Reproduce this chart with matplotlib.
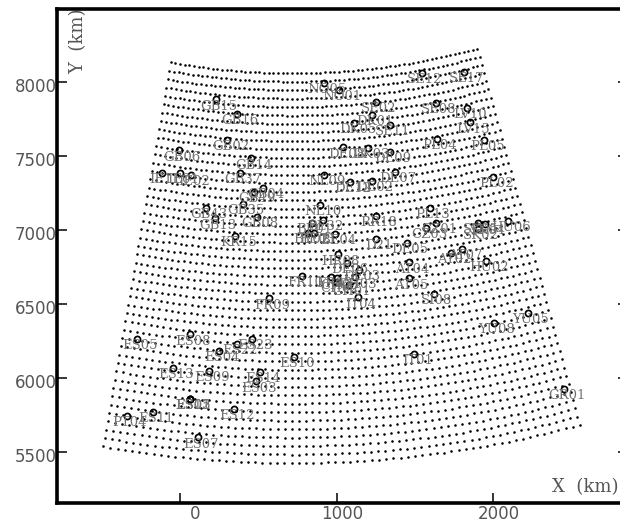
import numpy as np
import matplotlib
matplotlib.use("Agg")
import matplotlib.pyplot as plt
from matplotlib.transforms import ScaledTranslation

# Station positions (km)
station_names = ["NO05","NO01","GB15","GB16","GB02","GB06","GB14","IE11","IE01","IE02",
    "GB37","GB49","GB04","GB35","GB43","GB13","GB08","KR15","NL09","NL10",
    "DE12","DE08","DK03","DK05","BE32","BE01","BE02","BE03","BE04","SE12",
    "SE17","SE02","SE08","LV10","DK01","SE11","LV15","PL04","PL05","DE09",
    "DE07","DE02","PL02","PL13","RR18","CZ01","CZ03","SK05","SK04","SK02",
    "HU06","D21","DE05","AT07","AT02","HU02","AT04","AT05","SI08","HR08",
    "DE06","DE03","CH03","FR10","FR05","CH05","CH02","CH01","IT04","FR09",
    "ES05","ES08","ES04","ES22","ES23","ES10","ES13","ES09","ES14","ES03",
    "ES01","ES02","ES15","ES12","ES11","PT04","ES07","YU05","YU08","IT01","GR01"]
station_x = [919,1014,230,364,302,-6,451,-117,0,68,
    383,472,531,404,164,225,489,353,919,895,
    1085,1042,1201,1113,910,840,819,857,991,1544,
    1812,1249,1633,1833,1227,1340,1850,1640,1941,1338,
    1372,1223,1999,1595,1249,1633,1569,1899,1946,1899,
    2091,1249,1448,1801,1729,1950,1463,1459,1619,1006,
    1065,1142,1115,780,963,1000,1000,1078,1136,568,
    -272,66,249,364,461,725,-45,185,510,487,
    66,66,66,343,-170,-340,113,2220,2003,1495,2448]
station_y = [7995,7946,7883,7784,7607,7539,7485,7388,7388,7372,
    7384,7256,7287,7177,7152,7080,7091,6963,7374,7170,
    7327,7559,7553,7725,7069,7051,6983,6983,6976,8063,
    8070,7867,7860,7823,7777,7710,7728,7615,7609,7530,
    7391,7334,7361,7148,7096,7047,7013,7051,7040,7006,
    7062,6941,6916,6873,6844,6792,6783,6675,6571,6837,
    6777,6731,6682,6693,6686,6675,6652,6630,6547,6540,
    6264,6297,6187,6232,6266,6146,6072,6050,6045,5980,
    5863,5863,5863,5793,5771,5746,5602,6443,6372,6167,5928]

x_ticks = [0, 1000, 2000]
y_ticks = [5500, 6000, 6500, 7000, 7500, 8000]

# Map graticule: too many dots to read one by one, so it is constructed as a
# conic projection whose apex, radii, angles and counts were fitted to the picture.
apex_x, apex_y = 721, 12804
radius_top, radius_bottom = 4744, 7375
angle_left, angle_right = -10.0, 15.2
n_rows, n_cols = 47, 67
x_stretch = 0.946

radii = np.linspace(radius_top, radius_bottom, n_rows)
angles = np.radians(np.linspace(angle_left, angle_right, n_cols))
rr, aa = np.meshgrid(radii, angles)
grid_x = apex_x + x_stretch * rr * np.sin(aa)
grid_y = apex_y - rr * np.cos(aa)

fig = plt.figure(figsize=(6.2, 5.21), dpi=100)
ax = fig.add_axes([57/620, 18/521, 571/620, 494/521])
ax.set_xlim(-785, 2859)
ax.set_ylim(5159, 8493)

ax.scatter(grid_x.ravel(), grid_y.ravel(), s=3.4, c="black", linewidths=0, zorder=2)
ax.plot(station_x, station_y, ls="none", marker="o", ms=4.4, mfc="none", mec="black",
        mew=1.25, zorder=3)
for name, sx, sy in zip(station_names, station_x, station_y):
    ax.annotate(name, (sx, sy), xytext=(2.2, -4.8), textcoords="offset points",
                ha="center", va="center", fontsize=9.5, color="#707070",
                family="DejaVu Serif", zorder=4)

ax.set_xticks(x_ticks)
ax.set_yticks(y_ticks)
ax.tick_params(direction="in", length=7.5, width=1.1, top=False, right=True,
               labelsize=12, labelcolor="#555555", color="black")
ax.tick_params(axis="y", pad=0)
ax.tick_params(axis="x", pad=1.5)
for s in ax.spines.values():
    s.set_linewidth(2.6)

px = 0.72 / 72
for lab in ax.get_yticklabels():
    lab.set_transform(lab.get_transform() + ScaledTranslation(0, -3 * px, fig.dpi_scale_trans))
for lab, dx in zip(ax.get_xticklabels(), [15, 5, 5]):
    lab.set_transform(lab.get_transform() + ScaledTranslation(dx * px, 0, fig.dpi_scale_trans))

fig.text(552/620, 1 - 487/521, "X  (km)", ha="left", va="center", fontsize=13,
         color="#555555", family="DejaVu Serif")
ylab = ax.text(78/620, 1 - 74/521, "Y  (km)", rotation=90, ha="center", va="bottom",
               fontsize=13, color="#555555", family="DejaVu Serif",
               transform=fig.transFigure, clip_on=True, zorder=1)
ylab.set_clip_box(ax.bbox)

fig.savefig("out.png", dpi=100)
